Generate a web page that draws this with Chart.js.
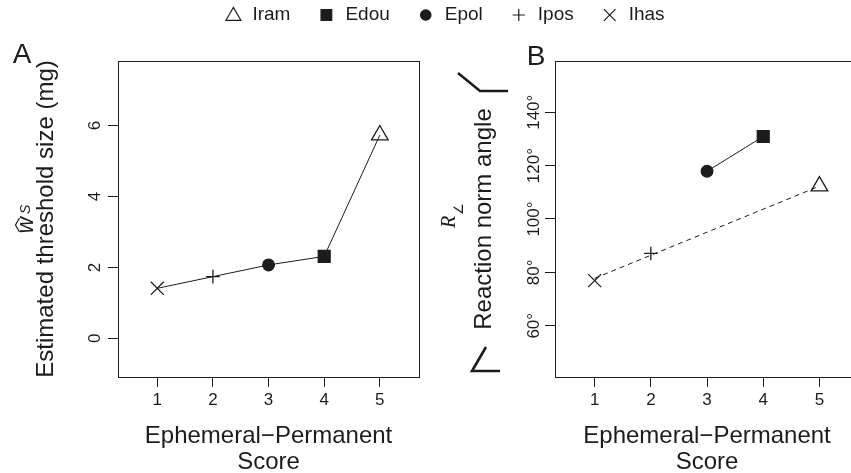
<!DOCTYPE html>
<html>
<head>
<meta charset="utf-8">
<script src="https://cdn.jsdelivr.net/npm/chart.js@4.4.0/dist/chart.umd.min.js"></script>
<style>
  html, body { margin: 0; padding: 0; background: #fff; overflow: hidden; }
  #wrap { position: relative; width: 851px; height: 473px; overflow: hidden; }
  canvas { position: absolute; top: 0; left: 0; }
</style>
</head>
<body>
<div id="wrap">
  <canvas id="panelA" width="430" height="473"></canvas>
  <canvas id="panelB" width="870" height="473"></canvas>
</div>
<script>
// datos
const scores = [1, 2, 3, 4, 5];
const populations = ['Ihas', 'Ipos', 'Epol', 'Edou', 'Iram'];
const thresholdSize = [1.41, 1.74, 2.07, 2.31, 5.73];     // panel A (mg)
const reactionAngle = [76.9, 87.1, 117.9, 130.9, 112.3];  // panel B (grados)
const fitScores = [1, 5];                                 // recta discontinua del panel B
const fitAngle = [77.8, 112.3];
const xTicks = [1, 2, 3, 4, 5];
const yTicksA = [0, 2, 4, 6];
const yTicksB = [60, 80, 100, 120, 140];
const legendOrder = ['Iram', 'Edou', 'Epol', 'Ipos', 'Ihas'];

const INK = '#1c1c1c';
const FONT = "'Liberation Sans', Arial, Helvetica, sans-serif";
Chart.defaults.font.family = FONT;
Chart.defaults.color = INK;

// simbolo de cada poblacion (estilo R: pch 4, 3, 16, 15, 2)
const markerStyle = {
  Ihas: { style: 'crossRot', r: 9.2, filled: false },
  Ipos: { style: 'cross', r: 6.8, filled: false },
  Epol: { style: 'circle', r: 5.8, filled: true },
  Edou: { style: 'rect', r: 8.4, filled: true },
  Iram: { style: 'triangle', r: 9.6, filled: false }
};

function puntos(idx, xs, ys) {
  return idx.map(i => ({ x: xs[i], y: ys[i] }));
}

function estiloPuntos(idx) {
  const m = idx.map(i => markerStyle[populations[i]]);
  return {
    pointStyle: m.map(s => s.style),
    pointRadius: m.map(s => s.r),
    pointHoverRadius: m.map(s => s.r),
    pointBackgroundColor: m.map(s => s.filled ? INK : 'rgba(0,0,0,0)'),
    pointBorderColor: INK,
    pointBorderWidth: 1.3
  };
}

function escalas(cfg) {
  return {
    x: {
      type: 'linear',
      min: 0.294,
      max: 5.706,
      afterBuildTicks: s => { s.ticks = xTicks.map(v => ({ value: v })); },
      afterFit: s => { s.height = 96; },
      grid: { drawOnChartArea: false, drawTicks: true, tickLength: 10, color: INK, lineWidth: 1 },
      border: { display: false },
      ticks: { autoSkip: false, maxRotation: 0, minRotation: 0, padding: 3, font: { size: 17 }, color: INK },
      title: {
        display: true,
        text: ['Ephemeral\u2212Permanent', 'Score'],
        font: { size: 24, lineHeight: 1.1 },
        color: INK,
        padding: { top: 0, bottom: -3 }
      }
    },
    y: {
      type: 'linear',
      min: cfg.yMin,
      max: cfg.yMax,
      afterBuildTicks: s => { s.ticks = cfg.yTicks.map(v => ({ value: v })); },
      afterFit: s => { s.width = cfg.yWidth; },
      grid: { drawOnChartArea: false, drawTicks: true, tickLength: 10, color: INK, lineWidth: 1 },
      border: { display: false },
      ticks: { color: 'rgba(0,0,0,0)', font: { size: 17 } },
      title: {
        display: true,
        text: cfg.yTitle,
        font: { size: 24, lineHeight: 1.2 },
        color: INK,
        padding: { top: cfg.yTitlePad, bottom: 0 }
      }
    }
  };
}

function polilinea(ctx, pts) {
  ctx.beginPath();
  ctx.moveTo(pts[0][0], pts[0][1]);
  for (let i = 1; i < pts.length; i++) ctx.lineTo(pts[i][0], pts[i][1]);
  ctx.stroke();
}

// caja, etiquetas del eje y giradas, letra del panel y extras
function crearExtras(cfg) {
  return {
    id: 'extras' + cfg.letter,
    afterDraw(chart) {
      const ctx = chart.ctx;
      const a = chart.chartArea;
      ctx.save();
      ctx.strokeStyle = INK;
      ctx.fillStyle = INK;
      ctx.lineWidth = 1;
      const l = Math.round(a.left) + 0.5, t = Math.round(a.top) + 0.5;
      ctx.strokeRect(l, t, Math.round(a.right) - Math.round(a.left), Math.round(a.bottom) - Math.round(a.top));

      // etiquetas y (paralelas al eje, como R)
      const y = chart.scales.y;
      ctx.font = '17px ' + FONT;
      ctx.textAlign = 'center';
      ctx.textBaseline = 'middle';
      y.ticks.forEach(tk => {
        const py = y.getPixelForValue(tk.value);
        ctx.save();
        ctx.translate(a.left - cfg.tickGap, py);
        ctx.rotate(-Math.PI / 2);
        ctx.fillText(cfg.tickText(tk.value), 0, 0);
        ctx.restore();
      });

      // letra del panel
      ctx.font = '28px ' + FONT;
      ctx.textAlign = 'center';
      ctx.textBaseline = 'alphabetic';
      ctx.fillText(cfg.letter, cfg.letterX, cfg.letterY);

      if (cfg.extra) cfg.extra(ctx, chart);
      ctx.restore();
    }
  };
}

function simboloA(ctx) {
  // w con sombrero y subindice S
  ctx.save();
  ctx.translate(33, 225);
  ctx.rotate(-Math.PI / 2);
  ctx.font = 'italic 23px ' + FONT;
  ctx.textAlign = 'left';
  ctx.textBaseline = 'alphabetic';
  ctx.fillText('w', -8.5, 0);
  ctx.font = 'italic 14px ' + FONT;
  ctx.fillText('S', 11, -3);
  ctx.lineWidth = 1.2;
  polilinea(ctx, [[-7, -13.5], [0, -17.5], [7, -13.5]]);
  ctx.restore();
}

function simboloB(ctx) {
  ctx.save();
  ctx.translate(455, 228);
  ctx.rotate(-Math.PI / 2);
  ctx.font = "italic 20px 'Liberation Serif', 'Times New Roman', serif";
  ctx.textAlign = 'left';
  ctx.textBaseline = 'alphabetic';
  ctx.fillText('R', 0, 0);
  ctx.font = "13px 'DejaVu Sans', sans-serif";
  ctx.fillText('\u2220', 13, 8);
  ctx.restore();

  // iconos de angulo junto al titulo
  ctx.save();
  ctx.lineWidth = 2.6;
  ctx.lineJoin = 'miter';
  polilinea(ctx, [[458, 73], [480, 91], [508, 91]]);
  polilinea(ctx, [[486, 347], [472, 371], [500, 371]]);
  ctx.restore();

  dibujarLeyenda(ctx);
}

function dibujarLeyenda(ctx) {
  ctx.save();
  ctx.font = '19px ' + FONT;
  ctx.textAlign = 'left';
  ctx.textBaseline = 'middle';
  const symGap = 19, itemGap = 28, half = 8, cy = 15;
  const widths = legendOrder.map(n => ctx.measureText(n).width);
  let total = 0;
  widths.forEach((w, i) => { total += half + symGap + w + (i < widths.length - 1 ? itemGap : 0); });
  let x = 445 - total / 2;
  legendOrder.forEach((name, i) => {
    const m = markerStyle[name];
    const cx = x + half;
    ctx.fillStyle = m.filled ? INK : 'rgba(0,0,0,0)';
    ctx.strokeStyle = INK;
    ctx.lineWidth = 1.2;
    Chart.helpers.drawPoint(ctx, { pointStyle: m.style, radius: m.r * 0.9, rotation: 0, borderWidth: 1.2 }, cx, cy + (m.style === 'triangle' ? 1 : 0));
    ctx.fillStyle = INK;
    ctx.fillText(name, cx + symGap, cy);
    x = cx + symGap + widths[i] + itemGap;
  });
  ctx.restore();
}

// panel A
const idxTodos = populations.map((p, i) => i);
new Chart(document.getElementById('panelA'), {
  type: 'line',
  data: {
    datasets: [Object.assign({
      label: 'threshold',
      data: puntos(idxTodos, scores, thresholdSize),
      borderColor: INK,
      borderWidth: 1,
      tension: 0,
      fill: false
    }, estiloPuntos(idxTodos))]
  },
  options: {
    responsive: false,
    animation: false,
    events: [],
    layout: { padding: { top: 61, right: 5, left: 0, bottom: 0 } },
    plugins: { legend: { display: false }, tooltip: { enabled: false } },
    scales: escalas({ yMin: -1.09, yMax: 7.82, yTicks: yTicksA, yWidth: 118, yTitle: 'Estimated threshold size (mg)', yTitlePad: 32 })
  },
  plugins: [crearExtras({ letter: 'A', letterX: 22, letterY: 63, tickGap: 23, tickText: v => String(v), extra: simboloA })]
});

// panel B
const idxE = idxTodos.filter(i => populations[i][0] === 'E');
const idxI = idxTodos.filter(i => populations[i][0] === 'I');
new Chart(document.getElementById('panelB'), {
  type: 'line',
  data: {
    datasets: [
      {
        label: 'ajuste',
        data: fitScores.map((x, i) => ({ x: x, y: fitAngle[i] })),
        borderColor: INK,
        borderWidth: 1,
        borderDash: [5, 4],
        pointRadius: 0,
        tension: 0
      },
      Object.assign({
        label: 'E',
        data: puntos(idxE, scores, reactionAngle),
        borderColor: INK,
        borderWidth: 1,
        tension: 0
      }, estiloPuntos(idxE)),
      Object.assign({
        label: 'I',
        data: puntos(idxI, scores, reactionAngle),
        showLine: false
      }, estiloPuntos(idxI))
    ]
  },
  options: {
    responsive: false,
    animation: false,
    events: [],
    layout: { padding: { top: 61, right: 8, left: 440, bottom: 0 } },
    plugins: { legend: { display: false }, tooltip: { enabled: false } },
    scales: escalas({ yMin: 40.8, yMax: 159.2, yTicks: yTicksB, yWidth: 115, yTitle: 'Reaction norm angle', yTitlePad: 30 })
  },
  plugins: [crearExtras({ letter: 'B', letterX: 536, letterY: 65, tickGap: 21, tickText: v => v + '\u00b0', extra: simboloB })]
});
</script>
</body>
</html>
